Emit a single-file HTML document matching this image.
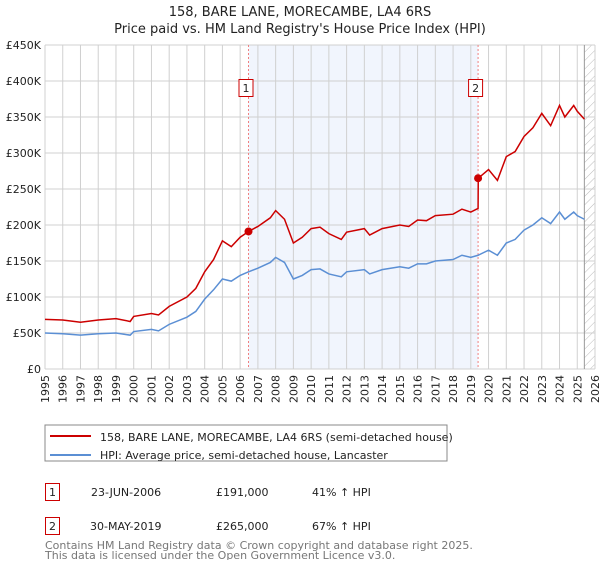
<!DOCTYPE html>
<html><head><meta charset="utf-8"><style>
body{margin:0;background:#fff;font-family:"Liberation Sans","DejaVu Sans",sans-serif;}
svg text{font-family:"DejaVu Sans","Liberation Sans",sans-serif;}
</style></head><body>
<svg id="chart" width="600" height="560" xmlns="http://www.w3.org/2000/svg">
<defs><pattern id="hatch" width="6" height="6" patternUnits="userSpaceOnUse" patternTransform="rotate(45)"><line x1="0" y1="0" x2="0" y2="6" stroke="#bbb" stroke-width="1"/></pattern></defs>
<text x="300" y="16" text-anchor="middle" font-size="13" fill="#222">158, BARE LANE, MORECAMBE, LA4 6RS</text>
<text x="300" y="33" text-anchor="middle" font-size="13" fill="#222">Price paid vs. HM Land Registry's House Price Index (HPI)</text>
<g id="plot"></g>
<rect x="45" y="425" width="402" height="36" fill="#fff" stroke="#888"/>
<line x1="50" y1="436" x2="91" y2="436" stroke="#cc0000" stroke-width="2"/>
<text x="100" y="441" font-size="11" fill="#222">158, BARE LANE, MORECAMBE, LA4 6RS (semi-detached house)</text>
<line x1="50" y1="455" x2="91" y2="455" stroke="#5b8fd4" stroke-width="2"/>
<text x="100" y="459" font-size="11" fill="#222">HPI: Average price, semi-detached house, Lancaster</text>
<g font-size="11" fill="#222">
<rect x="45.5" y="483.5" width="14" height="17" fill="#fff" stroke="#cc0000"/>
<text x="52.5" y="496" text-anchor="middle">1</text>
<text x="91" y="496">23-JUN-2006</text>
<text x="216" y="496">£191,000</text>
<text x="312" y="496">41% ↑ HPI</text>
<rect x="45.5" y="517.5" width="14" height="17" fill="#fff" stroke="#cc0000"/>
<text x="52.5" y="530" text-anchor="middle">2</text>
<text x="90" y="530">30-MAY-2019</text>
<text x="216" y="530">£265,000</text>
<text x="312" y="530">67% ↑ HPI</text>
</g>
<text x="45" y="549" font-size="11" fill="#777">Contains HM Land Registry data © Crown copyright and database right 2025.</text>
<text x="45" y="559" font-size="11" fill="#777">This data is licensed under the Open Government Licence v3.0.</text>
</svg>
<script>
const yTicks=[0,50,100,150,200,250,300,350,400,450];
const yTickLabels=["£0","£50K","£100K","£150K","£200K","£250K","£300K","£350K","£400K","£450K"];
const xYears=[1995,1996,1997,1998,1999,2000,2001,2002,2003,2004,2005,2006,2007,2008,2009,2010,2011,2012,2013,2014,2015,2016,2017,2018,2019,2020,2021,2022,2023,2024,2025,2026];
const hpiT=[1995,1996,1997,1998,1999,1999.8,2000,2001,2001.4,2002,2003,2003.5,2004,2004.5,2005,2005.5,2006,2006.47,2007,2007.7,2008,2008.5,2009,2009.5,2010,2010.5,2011,2011.7,2012,2013,2013.3,2014,2015,2015.5,2016,2016.5,2017,2018,2018.5,2019,2019.41,2020,2020.5,2021,2021.5,2022,2022.5,2023,2023.5,2024,2024.3,2024.8,2025,2025.4];
const hpiV=[50,49,47,49,50,47,52,55,53,62,72,80,97,110,125,122,130,135,140,148,155,148,125,130,138,139,132,128,135,138,132,138,142,140,146,146,150,152,158,155,158,165,158,175,180,193,200,210,202,218,208,218,213,208];
const propT=[1995,1996,1997,1998,1999,1999.8,2000,2001,2001.4,2002,2003,2003.5,2004,2004.5,2005,2005.5,2006,2006.47,2007,2007.7,2008,2008.5,2009,2009.5,2010,2010.5,2011,2011.7,2012,2013,2013.3,2014,2015,2015.5,2016,2016.5,2017,2018,2018.5,2019,2019.41,2019.42,2020,2020.5,2021,2021.5,2022,2022.5,2023,2023.5,2024,2024.3,2024.8,2025,2025.4];
const propV=[69,68,65,68,70,66,73,77,75,87,100,112,135,152,178,170,183,191,198,210,220,208,175,183,195,197,188,180,190,195,186,195,200,198,207,206,213,215,222,218,223,265,277,262,295,302,323,335,355,338,366,350,366,358,347];
const saleT=[2006.47,2019.41];
const saleV=[191,265];
const saleLabels=["1","2"];
const X0=45,X1=595,Y0=369,Y1=45,T0=1995,T1=2026,VMAX=450,DATA_END=2025.4;
const xs=t=>X0+(t-T0)/(T1-T0)*(X1-X0);
const ys=v=>Y0-v/VMAX*(Y0-Y1);
const NS="http://www.w3.org/2000/svg";
const g=document.getElementById('plot');
function mk(tag,attrs){const e=document.createElementNS(NS,tag);for(const k in attrs)e.setAttribute(k,attrs[k]);g.appendChild(e);return e;}
let e;
e=mk('rect',{x:xs(saleT[0]),y:Y1,width:xs(saleT[1])-xs(saleT[0]),height:Y0-Y1,fill:'#eef3fc',opacity:0.8});


e=mk('rect',{x:xs(DATA_END),y:Y1,width:X1-xs(DATA_END),height:Y0-Y1,fill:'url(#hatch)'});


xYears.forEach(yr=>{
 e=mk('line',{x1:xs(yr),x2:xs(yr),y1:Y1,y2:Y0,stroke:'#d0d0d0','stroke-width':1});
 
 
 e=mk('text',{x:0,y:0,'font-size':11,fill:'#222','text-anchor':'end',transform:`translate(${xs(yr)+4},${Y0+6}) rotate(-90)`});
 e.textContent=yr;
 
 
});
yTicks.forEach((v,i)=>{
 e=mk('line',{x1:X0,x2:X1,y1:ys(v),y2:ys(v),stroke:'#d0d0d0','stroke-width':1});
 
 
 e=mk('text',{x:X0-4,y:ys(v)+4,'font-size':11,fill:'#222','text-anchor':'end'});
 e.textContent=yTickLabels[i];
 
 
});
e=mk('line',{x1:xs(DATA_END),x2:xs(DATA_END),y1:Y1,y2:Y0,stroke:'#999','stroke-width':1});


saleT.forEach((t,i)=>{
 e=mk('line',{x1:xs(t),x2:xs(t),y1:Y1,y2:Y0,stroke:'#f08080','stroke-width':1,'stroke-dasharray':'2,2'});
 
 
});
e=mk('polyline',{points:hpiT.map((t,i)=>xs(t)+','+ys(hpiV[i])).join(' '),fill:'none',stroke:'#5b8fd4','stroke-width':1.5});


e=mk('polyline',{points:propT.map((t,i)=>xs(t)+','+ys(propV[i])).join(' '),fill:'none',stroke:'#cc0000','stroke-width':1.5});


saleT.forEach((t,i)=>{
 e=mk('circle',{cx:xs(t),cy:ys(saleV[i]),r:4,fill:'#cc0000'});
 
 
 e=mk('rect',{x:xs(t)-9.5,y:79.5,width:14,height:17,fill:'#fff',stroke:'#cc0000'});
 
 
 e=mk('text',{x:xs(t)-2.5,y:92,'font-size':11,fill:'#222','text-anchor':'middle'});
 e.textContent=saleLabels[i];
 
 
});
</script>
</body></html>
